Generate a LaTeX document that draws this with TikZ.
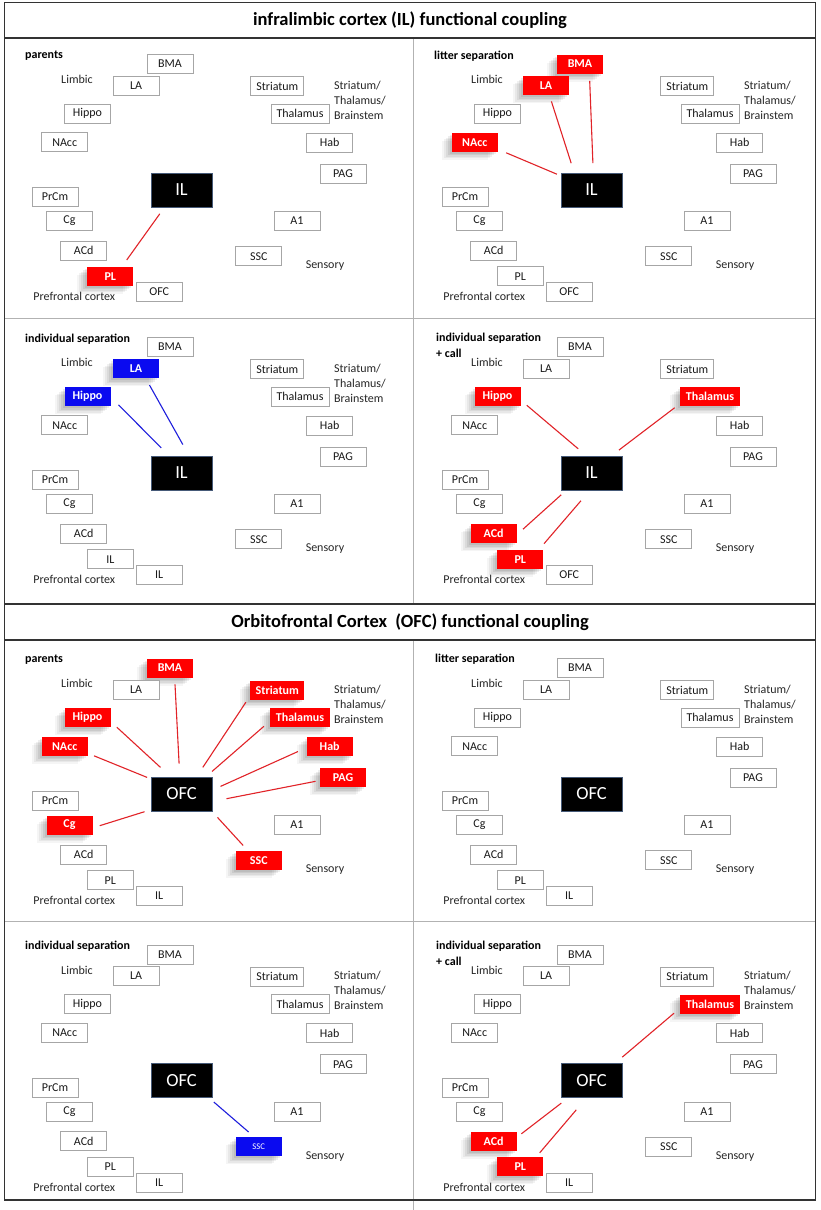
\documentclass[tikz,border=0pt]{standalone}
\usepackage{fontspec}
\setmainfont{Carlito}
\usetikzlibrary{shadows}
\definecolor{cborder}{RGB}{70,90,120}
\definecolor{lred}{RGB}{225,35,40}
\definecolor{lblue}{RGB}{30,30,220}
\definecolor{bxred}{RGB}{255,0,0}
\definecolor{bxblue}{RGB}{10,10,240}
\tikzset{
  wbox/.style={draw=black!35, line width=0.9pt, fill=white, minimum width=46pt, minimum height=19pt, inner xsep=5.5pt, inner ysep=0pt, font=\fontsize{12}{14}\selectfont, text=black!90},
  shadowed/.style={
    general shadow={shadow xshift=-2pt, shadow yshift=-2pt, fill=black, opacity=0.07},
    general shadow={shadow xshift=-4pt, shadow yshift=-3.5pt, fill=black, opacity=0.07},
    general shadow={shadow xshift=-6pt, shadow yshift=-5pt, fill=black, opacity=0.06},
    general shadow={shadow xshift=-8pt, shadow yshift=-6.5pt, fill=black, opacity=0.05},
    general shadow={shadow xshift=-10pt, shadow yshift=-8pt, fill=black, opacity=0.04}},
  rbox/.style={wbox, draw=none, fill=bxred, text=white, font=\fontsize{12}{14}\selectfont\bfseries, shadowed},
  bbox/.style={wbox, draw=none, fill=bxblue, text=white, font=\fontsize{12}{14}\selectfont\bfseries, shadowed},
  cbox/.style={draw=cborder, line width=0.6pt, fill=black, minimum width=61pt, minimum height=34pt, inner sep=0pt, text=white, font=\fontsize{18.5}{20}\selectfont},
  lbl/.style={inner sep=0pt, text=black!85, font=\fontsize{12}{14}\selectfont},
  hdr/.style={inner sep=0pt, anchor=west, text=black, font=\fontsize{12}{14}\selectfont\bfseries},
  ttl/.style={inner sep=0pt, text=black, font=\fontsize{18.5}{20}\selectfont\bfseries},
  outline/.style={draw=black!80, line width=1.3pt},
  divider/.style={draw=black!30, line width=0.8pt},
  rline/.style={draw=lred, line width=1.1pt},
  bline/.style={draw=lblue, line width=1.1pt},
  sBMA/.style={wbox}, sLA/.style={wbox}, sHippo/.style={wbox}, sNAcc/.style={wbox},
  sPrCm/.style={wbox}, sCg/.style={wbox}, sACd/.style={wbox}, sPL/.style={wbox},
  sOFC/.style={wbox}, sStr/.style={wbox}, sThal/.style={wbox}, sHab/.style={wbox},
  sPAG/.style={wbox}, sA1/.style={wbox}, sSSC/.style={wbox}
}
\newcommand\brainpanel[7]{%
\begin{scope}[shift={(#1,#2)}, #7]
  \node[sBMA] (#3BMA) at (170,64) {BMA};
  \node[sLA] (#3LA) at (136,85.5) {LA};
  \node[sHippo] (#3Hippo) at (87.5,113.5) {Hippo};
  \node[sNAcc] (#3NAcc) at (64.7,142.3) {NAcc};
  \node[cbox] (#3c) at (181.5,190) {#4};
  \node[sPrCm] (#3PrCm) at (55,197) {PrCm};
  \node[sCg] (#3Cg) at (69.5,221) {Cg};
  \node[sACd] (#3ACd) at (83.7,250.5) {ACd};
  \node[sPL] (#3PL) at (110.3,276.2) {#5};
  \node[sOFC] (#3OFC) at (159.2,292) {#6};
  \node[sStr] (#3Str) at (277.3,86) {Striatum};
  \node[sThal] (#3Thal) at (300,113.5) {Thalamus};
  \node[sHab] (#3Hab) at (329.7,142.5) {Hab};
  \node[sPAG] (#3PAG) at (343,173.8) {PAG};
  \node[sA1] (#3A1) at (297,221) {A1};
  \node[sSSC] (#3SSC) at (258.8,256.3) {SSC};
  \node[lbl] (#3limbic) at (77,79.5) {Limbic};
  \node[lbl] (#3sens) at (325,266) {Sensory};
  \node[lbl] (#3pfc) at (74.3,296.5) {Prefrontal cortex};
\end{scope}}
\newcommand\stblabel[3]{%
  \node[lbl, align=left, anchor=west, font=\fontsize{12}{15}\selectfont] (#3stb) at (334+#1,100+#2) {Striatum/\\Thalamus/\\Brainstem};}
\begin{document}
\begin{tikzpicture}[x=1pt,y=-1pt]
\useasboundingbox (0,0) rectangle (821,1210);
\fill[white] (0,0) rectangle (821,1210);

% frames and dividers
\draw[divider] (413,38) -- (413,604);
\draw[divider] (413,640) -- (413,1210);
\draw[divider] (4.5,318) -- (815.5,318);
\draw[divider] (4.5,921) -- (815.5,921);
\draw[outline] (4.5,2.5) rectangle (815.5,38);
\draw[outline] (4.5,38) -- (4.5,604);
\draw[outline] (815.5,38) -- (815.5,604);
\draw[outline] (4.5,604) rectangle (815.5,640);
\draw[outline] (4.5,640) -- (4.5,1200) -- (815.5,1200) -- (815.5,640);

\node[ttl] (title1) at (410,20.5) {infralimbic cortex (IL) functional coupling};
\node[ttl] (title2) at (410,622) {Orbitofrontal Cortex~ (OFC) functional coupling};

% ---------- IL parents
\brainpanel{0}{0}{a}{IL}{PL}{OFC}{sPL/.style={rbox}}
\stblabel{0}{0}{a}
\node[hdr] (aH) at (25,56) {parents};
\draw[rline] ([shift={(-21.7,23.8)}]ac.center) -- ([shift={(16.4,-16.2)}]aPL.center);

% ---------- IL litter separation
\brainpanel{410}{0}{b}{IL}{PL}{OFC}{sBMA/.style={rbox}, sLA/.style={rbox}, sNAcc/.style={rbox}}
\stblabel{410}{0}{b}
\node[hdr] (bH) at (434,56) {litter separation};
\draw[rline] ([shift={(1.4,-26.8)}]bc.center) -- ([shift={(9.7,16.9)}]bBMA.center);
\draw[rline] ([shift={(-20.3,-26.8)}]bc.center) -- ([shift={(5.4,15.9)}]bLA.center);
\draw[rline] ([shift={(-34.6,-15.8)}]bc.center) -- ([shift={(31.5,10.5)}]bNAcc.center);

% ---------- IL individual separation
\brainpanel{0}{283}{c}{IL}{IL}{IL}{sLA/.style={bbox}, sHippo/.style={bbox}}
\stblabel{0}{283}{c}
\node[hdr] (cH) at (25,339) {individual separation};
\draw[bline] ([shift={(1.3,-28.5)}]cc.center) -- ([shift={(13.5,16.6)}]cLA.center);
\draw[bline] ([shift={(-20.3,-25.1)}]cc.center) -- ([shift={(31,8.3)}]cHippo.center);

% ---------- IL individual separation + call
\brainpanel{410}{283}{d}{IL}{PL}{OFC}{sHippo/.style={rbox}, sThal/.style={rbox}, sACd/.style={rbox}, sPL/.style={rbox}}
\node[hdr] (dH) at (436,338.5) {individual separation};
\node[hdr] (dH2) at (436,353.5) {+ call};
\draw[rline] ([shift={(-13.3,-24.2)}]dc.center) -- ([shift={(29.3,8.8)}]dHippo.center);
\draw[rline] ([shift={(27.4,-22.9)}]dc.center) -- ([shift={(-35.3,11.2)}]dThal.center);
\draw[rline] ([shift={(-30.3,21.8)}]dc.center) -- ([shift={(29.3,-4.3)}]dACd.center);
\draw[rline] ([shift={(-10.6,27.8)}]dc.center) -- ([shift={(23.7,-15.5)}]dPL.center);

% ---------- OFC parents
\brainpanel{0}{604}{e}{OFC}{PL}{IL}{sBMA/.style={rbox}, sHippo/.style={rbox}, sNAcc/.style={rbox}, sStr/.style={rbox}, sThal/.style={rbox}, sHab/.style={rbox}, sPAG/.style={rbox}, sCg/.style={rbox}, sSSC/.style={rbox}}
\stblabel{0}{604}{e}
\node[hdr] (eH) at (25,659.5) {parents};
\draw[rline] ([shift={(-2.4,-30.3)}]ec.center) -- ([shift={(5,16.4)}]eBMA.center);
\draw[rline] ([shift={(-21,-26.6)}]ec.center) -- ([shift={(29.3,9.7)}]eHippo.center);
\draw[rline] ([shift={(-34.4,-16.6)}]ec.center) -- ([shift={(29.3,9.5)}]eNAcc.center);
\draw[rline] ([shift={(21.3,-26.6)}]ec.center) -- ([shift={(-31.4,12.2)}]eStr.center);
\draw[rline] ([shift={(30.6,-22.6)}]ec.center) -- ([shift={(-36.1,8.8)}]eThal.center);
\draw[rline] ([shift={(39,-7.6)}]ec.center) -- ([shift={(-31.7,5)}]eHab.center);
\draw[rline] ([shift={(45,4.7)}]ec.center) -- ([shift={(-27.4,3.5)}]ePAG.center);
\draw[rline] ([shift={(-37,17.7)}]ec.center) -- ([shift={(30.2,0.7)}]eCg.center);
\draw[rline] ([shift={(36,23.4)}]ec.center) -- ([shift={(-15.7,-14.9)}]eSSC.center);

% ---------- OFC litter separation
\brainpanel{410}{604}{f}{OFC}{PL}{IL}{}
\stblabel{410}{604}{f}
\node[hdr] (fH) at (435,659.5) {litter separation};

% ---------- OFC individual separation
\brainpanel{0}{890.5}{g}{OFC}{PL}{IL}{sSSC/.style={bbox, font=\fontsize{8.7}{10}\selectfont}}
\stblabel{0}{890.5}{g}
\node[hdr] (gH) at (25,946) {individual separation};
\draw[bline] ([shift={(32.3,21.5)}]gc.center) -- ([shift={(-10.2,-14.8)}]gSSC.center);

% ---------- OFC individual separation + call
\brainpanel{410}{890.5}{h}{OFC}{PL}{IL}{sThal/.style={rbox}, sACd/.style={rbox}, sPL/.style={rbox}}
\stblabel{410}{890.5}{h}
\node[hdr] (hH) at (436,946.5) {individual separation};
\node[hdr] (hH2) at (436,961) {+ call};
\draw[rline] ([shift={(30.8,-23.4)}]hc.center) -- ([shift={(-36,9.2)}]hThal.center);
\draw[rline] ([shift={(-30.2,22.6)}]hc.center) -- ([shift={(27.7,-7.2)}]hACd.center);
\draw[rline] ([shift={(-15.2,29.3)}]hc.center) -- ([shift={(19.4,-13.9)}]hPL.center);
\end{tikzpicture}
\end{document}
